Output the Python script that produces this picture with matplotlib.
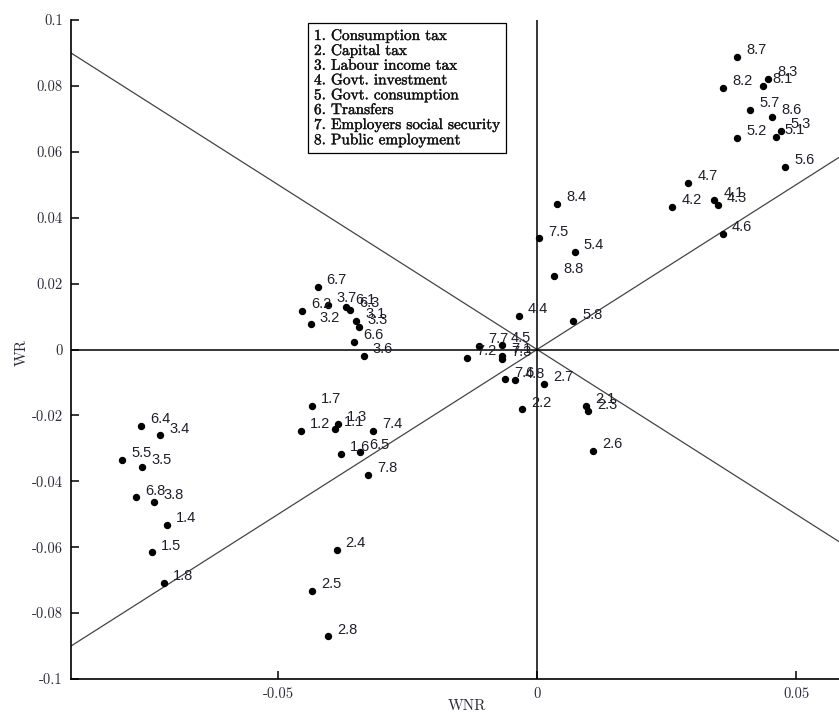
import matplotlib
matplotlib.use("Agg")
import matplotlib.pyplot as plt
import matplotlib.patheffects as pe
import numpy as np

# Welfare effects of fiscal instruments: non-Ricardian (WNR) vs Ricardian (WR)
point_labels = [
    "1.1", "1.2", "1.3", "1.4", "1.5", "1.6", "1.7", "1.8",
    "2.1", "2.2", "2.3", "2.4", "2.5", "2.6", "2.7", "2.8",
    "3.1", "3.2", "3.3", "3.4", "3.5", "3.6", "3.7", "3.8",
    "4.1", "4.2", "4.3", "4.4", "4.5", "4.6", "4.7", "4.8",
    "5.1", "5.2", "5.3", "5.4", "5.5", "5.6", "5.7", "5.8",
    "6.1", "6.2", "6.3", "6.4", "6.5", "6.6", "6.7", "6.8",
    "7.1", "7.2", "7.3", "7.4", "7.5", "7.6", "7.7", "7.8",
    "8.1", "8.2", "8.3", "8.4", "8.6", "8.7", "8.8",
]
wnr = [
    -0.0391, -0.0456, -0.0384, -0.0715, -0.0744, -0.0378, -0.0434, -0.0720,
    0.0095, -0.0029, 0.0098, -0.0387, -0.0434, 0.0108, 0.0014, -0.0403,
    -0.0349, -0.0437, -0.0344, -0.0728, -0.0763, -0.0335, -0.0404, -0.0739,
    0.0342, 0.0261, 0.0349, -0.0035, -0.0068, 0.0359, 0.0292, -0.0042,
    0.0461, 0.0386, 0.0471, 0.0073, -0.0801, 0.0479, 0.0411, 0.0070,
    -0.0369, -0.0454, -0.0361, -0.0765, -0.0342, -0.0353, -0.0424, -0.0774,
    -0.0068, -0.0135, -0.0068, -0.0316, 0.0004, -0.0062, -0.0112, -0.0326,
    0.0436, 0.0359, 0.0446, 0.0039, 0.0454, 0.0386, 0.0033,
]
wr = [
    -0.0241, -0.0246, -0.0226, -0.0533, -0.0616, -0.0317, -0.0172, -0.0709,
    -0.0170, -0.0182, -0.0188, -0.0609, -0.0733, -0.0307, -0.0106, -0.0871,
    0.0086, 0.0076, 0.0068, -0.0261, -0.0356, -0.0021, 0.0136, -0.0462,
    0.0453, 0.0432, 0.0438, 0.0103, 0.0015, 0.0350, 0.0504, -0.0094,
    0.0644, 0.0641, 0.0663, 0.0295, -0.0334, 0.0553, 0.0726, 0.0085,
    0.0129, 0.0116, 0.0121, -0.0233, -0.0310, 0.0022, 0.0191, -0.0449,
    -0.0021, -0.0027, -0.0030, -0.0246, 0.0337, -0.0091, 0.0012, -0.0381,
    0.0799, 0.0793, 0.0821, 0.0441, 0.0705, 0.0888, 0.0222,
]

instrument_names = [
    "1. Consumption tax",
    "2. Capital tax",
    "3. Labour income tax",
    "4. Govt. investment",
    "5. Govt. consumption",
    "6. Transfers",
    "7. Employers social security",
    "8. Public employment",
]

x_ticks = [-0.05, 0.0, 0.05]
x_tick_labels = ["-0.05", "0", "0.05"]
y_ticks = [-0.1, -0.08, -0.06, -0.04, -0.02, 0.0, 0.02, 0.04, 0.06, 0.08, 0.1]
y_tick_labels = ["-0.1", "-0.08", "-0.06", "-0.04", "-0.02", "0",
                 "0.02", "0.04", "0.06", "0.08", "0.1"]

x_min, x_max = -0.09, 0.0583
y_min, y_max = -0.1, 0.1

serif = "cmr10"
tick_color = "#2b2b3a"
heavy = [pe.withStroke(linewidth=0.3, foreground="#222222")]

fig = plt.figure(figsize=(8.39, 7.13), dpi=100)
ax = fig.add_axes([71 / 839, 34 / 713, (839 - 71) / 839, 659 / 713])
ax.set_xlim(x_min, x_max)
ax.set_ylim(y_min, y_max)

# reference diagonals WR = WNR and WR = -WNR
xs = np.array([x_min, x_max])
ax.plot(xs, xs, color="#444444", lw=0.9, zorder=1)
ax.plot(xs, -xs, color="#444444", lw=0.9, zorder=1)

# zero axes
ax.axhline(0, color="black", lw=1.1, zorder=1)
ax.axvline(0, color="black", lw=1.1, zorder=1)

ax.plot(wnr, wr, "o", color="black", markersize=4.3, zorder=3)
for lab, xv, yv in zip(point_labels, wnr, wr):
    ax.annotate(lab, (xv, yv), xytext=(6.5, 5), textcoords="offset points",
                ha="left", va="center", fontsize=10.5, color="#1e1e2a",
                family="Liberation Sans", zorder=4)

ax.spines["top"].set_visible(False)
ax.spines["right"].set_visible(False)
for s in ("left", "bottom"):
    ax.spines[s].set_linewidth(1.2)

ax.set_xticks(x_ticks)
ax.set_xticklabels(x_tick_labels)
ax.set_yticks(y_ticks)
ax.set_yticklabels(y_tick_labels)
ax.tick_params(axis="both", direction="in", length=6, width=1.1,
               labelsize=10.5, labelcolor=tick_color, pad=6)
for t in ax.get_xticklabels() + ax.get_yticklabels():
    t.set_fontfamily(serif)

fig.text(22 / 839, 1 - 352 / 713, "WR", rotation=90, ha="center", va="center",
         fontsize=11, family=serif, color=tick_color)
fig.text(467 / 839, 1 - 706 / 713, "WNR", ha="center", va="center",
         fontsize=11, family=serif, color=tick_color)

# key of fiscal instruments
ax.text((314 - 71) / 768, 1 - (29 - 20) / 659, "\n".join(instrument_names),
        transform=ax.transAxes, ha="left", va="top", fontsize=11,
        family=serif, linespacing=1.09, color="#111111", path_effects=heavy,
        bbox=dict(boxstyle="square,pad=0.4", facecolor="white",
                  edgecolor="black", linewidth=0.9), zorder=5)

fig.savefig("out.png", dpi=100)
